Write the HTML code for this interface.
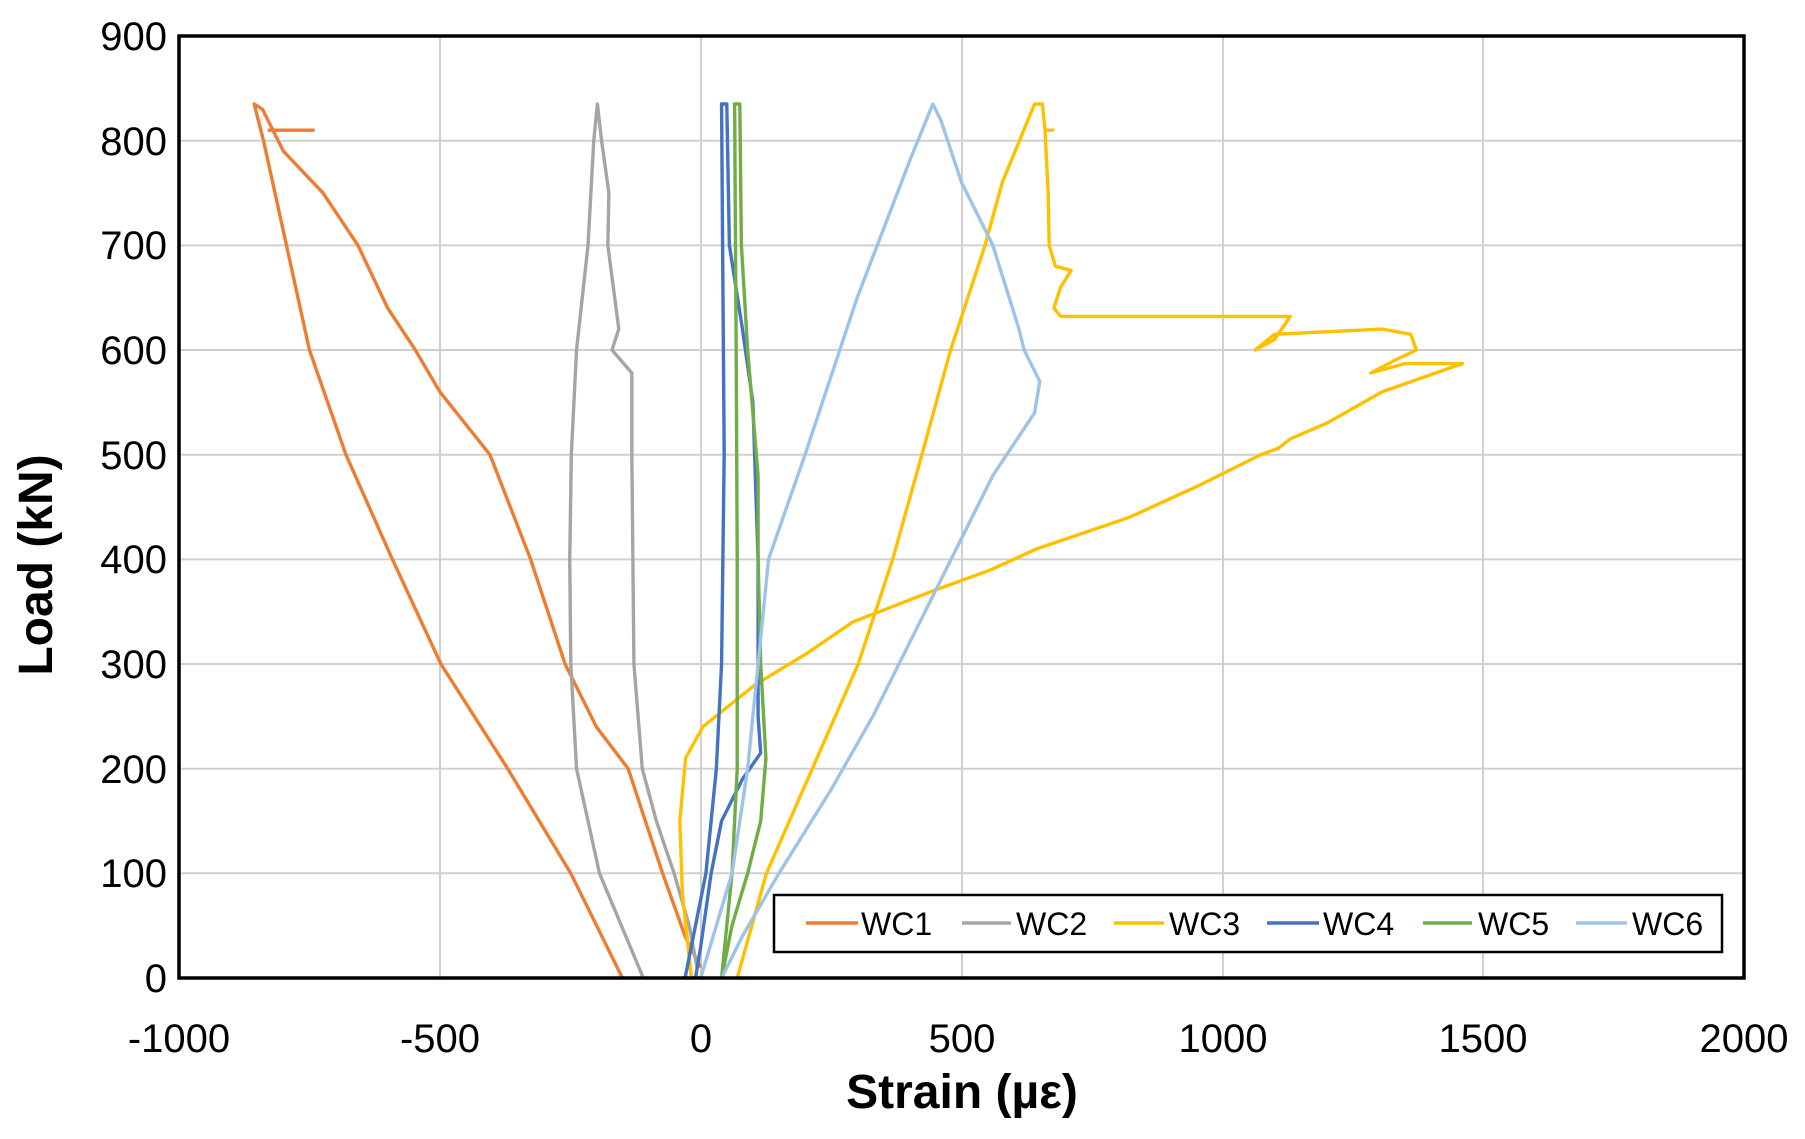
<!DOCTYPE html>
<html><head><meta charset="utf-8"><style>
html,body{margin:0;padding:0;background:#fff;}
svg{display:block;font-family:"Liberation Sans",sans-serif;}
</style></head><body>
<svg width="1805" height="1139" viewBox="0 0 1805 1139">
<rect width="1805" height="1139" fill="#fff"/>
<g stroke="#d0d0d0" stroke-width="2">
<line x1="440" y1="36" x2="440" y2="978"/><line x1="701" y1="36" x2="701" y2="978"/><line x1="962" y1="36" x2="962" y2="978"/><line x1="1223" y1="36" x2="1223" y2="978"/><line x1="1483" y1="36" x2="1483" y2="978"/>
<line x1="179" y1="140.7" x2="1744" y2="140.7"/><line x1="179" y1="245.4" x2="1744" y2="245.4"/><line x1="179" y1="350" x2="1744" y2="350"/><line x1="179" y1="454.7" x2="1744" y2="454.7"/><line x1="179" y1="559.4" x2="1744" y2="559.4"/><line x1="179" y1="664" x2="1744" y2="664"/><line x1="179" y1="768.7" x2="1744" y2="768.7"/><line x1="179" y1="873.3" x2="1744" y2="873.3"/>
</g>
<g transform="translate(700.7,978) scale(0.5217,-1.0467)" fill="none" stroke-width="3.4" stroke-linejoin="round">
<polyline vector-effect="non-scaling-stroke" stroke="#ED7D31" points="-150,0 -249,100 -370,200 -498,300 -591,400 -680,500 -750,600 -794,700 -838,800 -856,835 -840,830 -800,790 -724,750 -657,700 -600,640 -547,600 -500,560 -404,500 -326,400 -260,300 -200,240 -139,200 -73,100 -30,40 0,10"/>
<polyline vector-effect="non-scaling-stroke" stroke="#ED7D31" points="-830,810 -740,810"/>
<polyline vector-effect="non-scaling-stroke" stroke="#A5A5A5" points="-110,0 -194,100 -238,200 -249,300 -251,400 -248,500 -238,600 -216,700 -205,800 -198,835 -190,800 -176,750 -178,700 -157,620 -170,600 -132,578 -132,500 -130,400 -128,300 -112,200 -85,150 -51,100 -22,50 -7,10"/>
<polyline vector-effect="non-scaling-stroke" stroke="#FFC000" points="70,0 126,100 214,200 302,300 368,400 424,500 479,600 545,700 578,760 611,800 640,835 655,835 660,810 675,810 660,810 666,750 668,700 680,680 710,676 690,660 677,640 690,632 1130,632 1100,610 1063,600 1100,615 1306,620 1361,615 1372,600 1330,590 1284,578 1350,587 1460,587 1306,560 1200,530 1130,515 1107,506 1074,500 953,470 821,440 644,410 556,390 446,370 291,340 203,310 104,280 4,240 -29,210 -40,150 -35,80 -22,20 -18,0"/>
<polyline vector-effect="non-scaling-stroke" stroke="#4472C4" points="-30,0 10,100 30,200 40,300 45,500 42,700 40,835 50,835 55,700 80,620 100,550 110,400 110,250 115,215 80,190 40,150 20,100 0,30 -10,0"/>
<polyline vector-effect="non-scaling-stroke" stroke="#70AD47" points="40,0 60,100 70,200 70,400 68,600 65,835 75,835 78,700 90,600 110,480 110,400 115,300 125,210 115,150 90,100 60,50 40,0"/>
<polyline vector-effect="non-scaling-stroke" stroke="#9DC3E6" points="0,0 30,50 60,100 90,200 110,300 130,400 200,500 300,650 400,780 445,835 460,820 500,760 560,700 610,620 620,600 650,570 640,540 560,480 480,400 400,320 330,250 250,180 150,100 80,40 40,0"/>
</g>
<rect x="179" y="36" width="1565" height="942" fill="none" stroke="#000" stroke-width="3.5"/>
<rect x="774" y="895" width="948" height="57" fill="#fff" stroke="#000" stroke-width="2.5"/>
<g stroke-width="3.4">
<line x1="806" y1="923" x2="858" y2="923" stroke="#ED7D31"/>
<line x1="962" y1="923" x2="1011" y2="923" stroke="#A5A5A5"/>
<line x1="1114" y1="923" x2="1164" y2="923" stroke="#FFC000"/>
<line x1="1267" y1="923" x2="1319" y2="923" stroke="#4472C4"/>
<line x1="1423" y1="923" x2="1472" y2="923" stroke="#70AD47"/>
<line x1="1576" y1="923" x2="1627" y2="923" stroke="#9DC3E6"/>
</g>
<g font-size="32" fill="#000">
<text x="861" y="935">WC1</text><text x="1016" y="935">WC2</text><text x="1169" y="935">WC3</text><text x="1323" y="935">WC4</text><text x="1478" y="935">WC5</text><text x="1632" y="935">WC6</text>
</g>
<g font-size="40" fill="#000" text-anchor="middle">
<text x="179" y="1052">-1000</text><text x="440" y="1052">-500</text><text x="701" y="1052">0</text><text x="962" y="1052">500</text><text x="1223" y="1052">1000</text><text x="1483" y="1052">1500</text><text x="1744" y="1052">2000</text>
</g>
<g font-size="40" fill="#000" text-anchor="end">
<text x="167" y="50">900</text><text x="167" y="155">800</text><text x="167" y="259">700</text><text x="167" y="364">600</text><text x="167" y="469">500</text><text x="167" y="573">400</text><text x="167" y="678">300</text><text x="167" y="783">200</text><text x="167" y="887">100</text><text x="167" y="992">0</text>
</g>
<text x="962" y="1108" font-size="48" font-weight="bold" text-anchor="middle">Strain (µε)</text>
<text transform="translate(52,565) rotate(-90)" font-size="48" font-weight="bold" text-anchor="middle">Load (kN)</text>
</svg>
</body></html>
